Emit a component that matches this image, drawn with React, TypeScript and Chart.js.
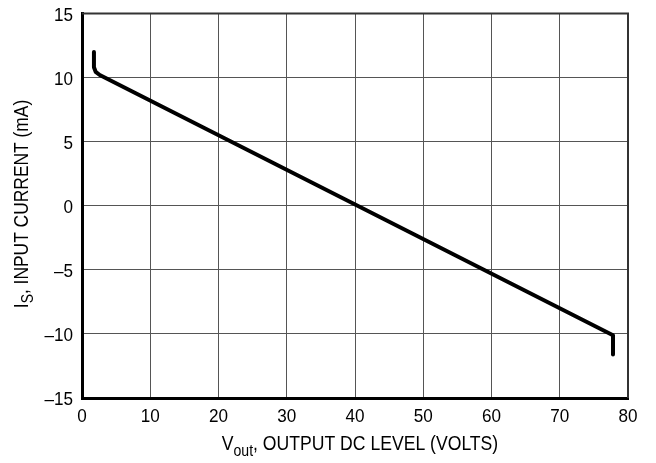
import React, { useEffect, useRef } from 'react';
import { Chart, registerables } from 'chart.js';
Chart.register(...registerables);

const vout = [1.75, 1.75, 2.0, 2.6, 77.8, 77.8];
const current = [12.0, 10.8, 10.45, 10.2, -10.1, -11.6];
const xTicks = [0, 10, 20, 30, 40, 50, 60, 70, 80];
const yTicks = [-15, -10, -5, 0, 5, 10, 15];
const xTitleMain = 'V';
const xTitleSub = 'out';
const xTitleRest = ', OUTPUT DC LEVEL (VOLTS)';
const yTitleMain = 'I';
const yTitleSub = 'S';
const yTitleRest = ', INPUT CURRENT (mA)';

const FONT = "'Liberation Sans', Arial, sans-serif";
const fmt = (v: number) => (v < 0 ? '\u2013' + Math.abs(v) : String(v));

const textPlugin = {
  id: 'texts',
  afterDraw(chart: any) {
    const ctx = chart.ctx;
    const a = chart.chartArea;
    const xs = chart.scales.x;
    const ys = chart.scales.y;
    ctx.save();
    // frame top/right
    ctx.strokeStyle = '#333';
    ctx.lineWidth = 2;
    ctx.beginPath();
    ctx.moveTo(a.left, a.top);
    ctx.lineTo(a.right, a.top);
    ctx.lineTo(a.right, a.bottom);
    ctx.stroke();
    ctx.fillStyle = '#000';

    const SX = 0.9;
    // tick labels
    ctx.font = '19px ' + FONT;
    ctx.textBaseline = 'alphabetic';
    for (const v of xTicks) {
      const px = xs.getPixelForValue(v);
      ctx.save();
      ctx.translate(px, a.bottom + 24);
      ctx.scale(SX, 1);
      ctx.textAlign = 'center';
      ctx.fillText(fmt(v), 0, 0);
      ctx.restore();
    }
    for (const v of yTicks) {
      const py = ys.getPixelForValue(v);
      ctx.save();
      ctx.translate(a.left - 9, py + 7);
      ctx.scale(SX, 1);
      ctx.textAlign = 'right';
      ctx.fillText(fmt(v), 0, 0);
      ctx.restore();
    }

    ctx.textAlign = 'left';
    const big = '20px ' + FONT;
    const small = '16px ' + FONT;
    const drawTitle = (main: string, sub: string, rest: string, shift: number) => {
      ctx.font = big;
      const w1 = ctx.measureText(main).width;
      const w3 = ctx.measureText(rest).width;
      ctx.font = small;
      const w2 = ctx.measureText(sub).width;
      const total = w1 + w2 + w3;
      let x = -total / 2;
      ctx.font = big;
      ctx.fillText(main, x, 0);
      x += w1;
      ctx.font = small;
      ctx.fillText(sub, x, shift);
      x += w2;
      ctx.font = big;
      ctx.fillText(rest, x, 0);
    };
    ctx.save();
    ctx.translate(360, 450);
    ctx.scale(0.88, 1);
    drawTitle(xTitleMain, xTitleSub, xTitleRest, 6);
    ctx.restore();
    ctx.save();
    ctx.translate(28, 204);
    ctx.rotate(-Math.PI / 2);
    ctx.scale(0.87, 1);
    drawTitle(yTitleMain, yTitleSub, yTitleRest, 5);
    ctx.restore();
    ctx.restore();
  },
};

export default function App() {
  const ref = useRef<HTMLCanvasElement>(null);
  useEffect(() => {
    if (!ref.current) return;
    const chart = new Chart(ref.current, {
      type: 'line',
      data: {
        datasets: [
          {
            data: vout.map((x, i) => ({ x, y: current[i] })),
            borderColor: '#000',
            borderWidth: 4,
            pointRadius: 0,
            borderJoinStyle: 'round',
            borderCapStyle: 'butt',
            tension: 0,
            fill: false,
          },
        ],
      },
      options: {
        animation: false,
        responsive: false,
        maintainAspectRatio: false,
        layout: { padding: { top: 13.5, right: 28, left: 0, bottom: 0 } },
        plugins: { legend: { display: false }, tooltip: { enabled: false } },
        scales: {
          x: {
            type: 'linear',
            min: 0,
            max: 80,
            afterBuildTicks: (s: any) => {
              s.ticks = xTicks.map((v) => ({ value: v }));
            },
            afterFit: (s: any) => {
              s.height = 65;
            },
            ticks: { display: false },
            grid: { color: '#555', lineWidth: 1, drawTicks: false },
            border: { color: '#000', width: 3 },
          },
          y: {
            type: 'linear',
            min: -15,
            max: 15,
            afterBuildTicks: (s: any) => {
              s.ticks = yTicks.map((v) => ({ value: v }));
            },
            afterFit: (s: any) => {
              s.width = 82;
            },
            ticks: { display: false },
            grid: { color: '#555', lineWidth: 1, drawTicks: false },
            border: { color: '#000', width: 3 },
          },
        },
      },
      plugins: [textPlugin],
    });
    return () => chart.destroy();
  }, []);
  return (
    <div style={{ position: 'fixed', left: 0, top: 0, width: 656, height: 463, background: '#fff' }}>
      <canvas ref={ref} width={656} height={463} style={{ width: 656, height: 463 }} />
    </div>
  );
}
